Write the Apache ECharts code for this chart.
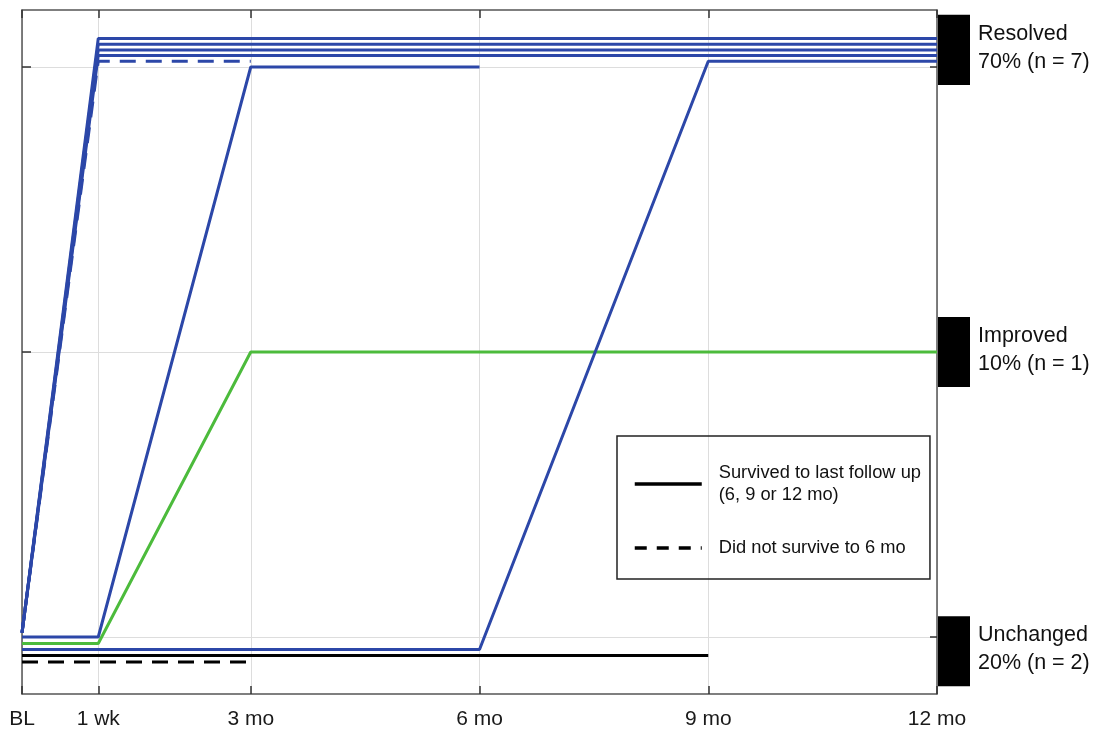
<!DOCTYPE html>
<html>
<head>
<meta charset="utf-8">
<script src="https://cdn.jsdelivr.net/npm/echarts@6/dist/echarts.min.js"></script>
<style>
html,body{margin:0;padding:0;background:#fff;}
#chart{width:1096px;height:733px;}
</style>
</head>
<body>
<div id="chart"></div>
<script>
// ---- data ----
const xTickValues = [0, 1, 3, 6, 9, 12];
const xTickLabels = ['BL', '1 wk', '3 mo', '6 mo', '9 mo', '12 mo'];
const yLevelValues = [0, 1, 2]; // 0 = Unchanged, 1 = Improved, 2 = Resolved

const statusNames = ['Resolved', 'Improved', 'Unchanged'];
const statusShares = ['70% (n = 7)', '10% (n = 1)', '20% (n = 2)'];
const statusBarCenters = [2.06, 1.0, -0.05];
const statusBarHalfHeight = 0.123;

// individual patient trajectories: [time, status (with small offsets to separate lines)]
const patient1 = [[0, 0.015], [1, 2.10], [12, 2.10]];
const patient2 = [[0, 0.015], [1, 2.08], [12, 2.08]];
const patient3 = [[0, 0.015], [1, 2.06], [12, 2.06]];
const patient4 = [[0, 0.015], [1, 2.04], [12, 2.04]];
const patient5 = [[0, 0.015], [1, 2.02], [3, 2.02]];            // did not survive
const patient6 = [[0, 0], [1, 0], [3, 2.0], [6, 2.0]];
const patient7 = [[0, -0.044], [1, -0.044], [6, -0.044], [9, 2.02], [12, 2.02]];
const patient8 = [[0, -0.023], [1, -0.023], [3, 1.0], [12, 1.0]]; // improved
const patient9 = [[0, -0.065], [9, -0.065]];                     // unchanged
const patient10 = [[0, -0.088], [3, -0.088]];                    // unchanged, did not survive

const legendNames = ['Survived to last follow up\n(6, 9 or 12 mo)', 'Did not survive to 6 mo'];

// ---- styles ----
const BLUE = '#2c47a8';
const GREEN = '#4cbb3c';
const BLACK = '#000000';
const FONT = 'Liberation Sans, Arial, sans-serif';
const AXIS_COLOR = '#555555';

function lineSeries(data, color, dashed, z) {
  return {
    type: 'line',
    data: data,
    symbol: 'none',
    silent: true,
    z: z || 3,
    lineStyle: {color: color, width: 3, type: dashed ? [16, 10] : 'solid'},
    itemStyle: {color: color},
    animation: false
  };
}

const chart = echarts.init(document.getElementById('chart'), null, {renderer: 'canvas'});

const option = {
  animation: false,
  backgroundColor: '#ffffff',
  textStyle: {fontFamily: FONT},
  grid: {left: 22, right: 159, top: 10, bottom: 39, containLabel: false},
  xAxis: [
    {
      type: 'value', min: 0, max: 12, position: 'bottom',
      axisLine: {show: true, onZero: false, lineStyle: {color: AXIS_COLOR, width: 1.5}},
      axisTick: {show: true, inside: true, length: 8, customValues: xTickValues, lineStyle: {color: '#333', width: 1.5}},
      axisLabel: {
        show: true, customValues: xTickValues, margin: 15,
        fontSize: 21, color: '#1a1a1a', fontFamily: FONT,
        formatter: function (v) { const i = xTickValues.indexOf(v); return i >= 0 ? xTickLabels[i] : ''; }
      },
      splitLine: {show: true, lineStyle: {color: '#dddddd', width: 1}}
    },
    {
      type: 'value', min: 0, max: 12, position: 'top',
      axisLine: {show: true, onZero: false, lineStyle: {color: AXIS_COLOR, width: 1.5}},
      axisTick: {show: true, inside: true, length: 8, customValues: xTickValues, lineStyle: {color: '#333', width: 1.5}},
      axisLabel: {show: false},
      splitLine: {show: false}
    }
  ],
  yAxis: [
    {
      type: 'value', min: -0.2, max: 2.2, position: 'left',
      axisLine: {show: true, onZero: false, lineStyle: {color: AXIS_COLOR, width: 1.5}},
      axisTick: {show: true, inside: true, length: 9, customValues: yLevelValues, lineStyle: {color: '#333', width: 1.5}},
      axisLabel: {show: false, customValues: yLevelValues},
      splitLine: {show: true, lineStyle: {color: '#dddddd', width: 1}}
    },
    {
      type: 'value', min: -0.2, max: 2.2, position: 'right',
      axisLine: {show: true, onZero: false, lineStyle: {color: AXIS_COLOR, width: 1.5}},
      axisTick: {show: true, inside: true, length: 7, customValues: yLevelValues, lineStyle: {color: '#333', width: 1.5}},
      axisLabel: {show: false},
      splitLine: {show: false}
    }
  ],
  legend: {
    show: true,
    orient: 'vertical',
    left: 617, top: 436,
    padding: [26, 9, 20, 16],
    itemGap: 31,
    itemWidth: 67, itemHeight: 14,
    borderColor: '#222', borderWidth: 1.5,
    backgroundColor: 'transparent',
    selectedMode: false,
    itemStyle: {opacity: 0},
    lineStyle: {width: 3.5},
    textStyle: {fontSize: 18.3, lineHeight: 22, color: '#111', fontFamily: FONT, padding: [0, 0, 0, 12]},
    data: legendNames
  },
  series: [
    lineSeries(patient9, BLACK, false, 3),
    lineSeries(patient10, BLACK, true, 3),
    lineSeries(patient8, GREEN, false, 3),
    lineSeries(patient7, BLUE, false, 4),
    lineSeries(patient6, BLUE, false, 4),
    lineSeries(patient5, BLUE, true, 4),
    lineSeries(patient4, BLUE, false, 4),
    lineSeries(patient3, BLUE, false, 4),
    lineSeries(patient2, BLUE, false, 4),
    lineSeries(patient1, BLUE, false, 4),
    {
      name: legendNames[0], type: 'line', data: [], symbol: 'none',
      lineStyle: {color: BLACK, width: 3.5, type: 'solid'}, itemStyle: {color: BLACK}
    },
    {
      name: legendNames[1], type: 'line', data: [], symbol: 'none',
      lineStyle: {color: BLACK, width: 3.5, type: [12, 10]}, itemStyle: {color: BLACK}
    },
    {
      type: 'custom',
      coordinateSystem: 'cartesian2d',
      xAxisIndex: 0, yAxisIndex: 0,
      clip: false, silent: true, z: 5,
      data: statusBarCenters.map(function (c, i) { return [12, c, i]; }),
      renderItem: function (params, api) {
        const c = api.value(1);
        const i = api.value(2);
        const mid = api.coord([12, c]);
        const top = api.coord([12, c + statusBarHalfHeight]);
        const bot = api.coord([12, c - statusBarHalfHeight]);
        return {
          type: 'group',
          children: [
            {type: 'rect', shape: {x: mid[0] + 1, y: top[1], width: 32, height: bot[1] - top[1]}, style: {fill: '#000'}},
            {type: 'text', style: {
              x: mid[0] + 41, y: mid[1] - 2,
              text: statusNames[i] + '\n' + statusShares[i],
              fill: '#111', font: '21.5px ' + FONT, lineHeight: 28,
              align: 'left', verticalAlign: 'middle'
            }}
          ]
        };
      }
    }
  ]
};
chart.setOption(option);
</script>
</body>
</html>
